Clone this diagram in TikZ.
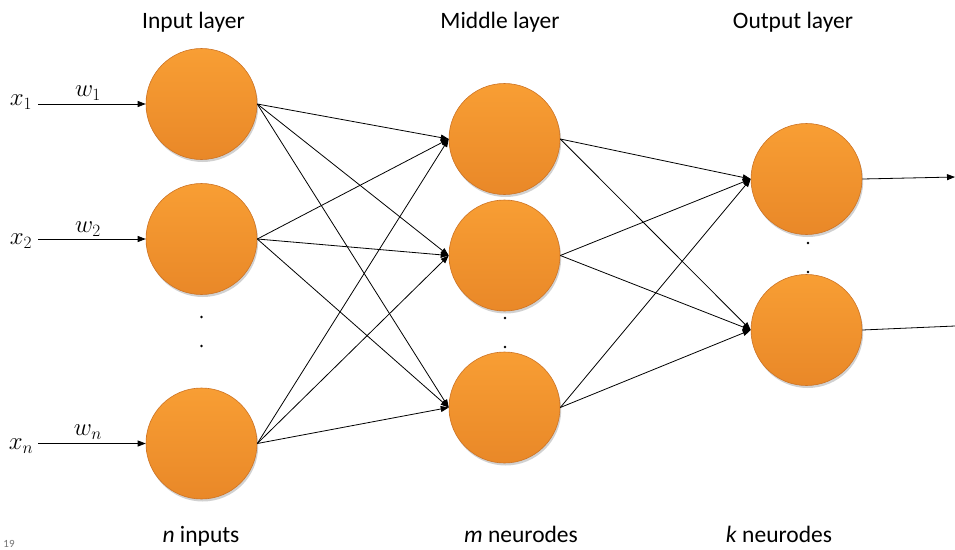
\documentclass[tikz,border=0pt]{standalone}
\usepackage{fontspec}
\setmainfont{Carlito}
\usetikzlibrary{arrows.meta,shadows}
\definecolor{orTop}{RGB}{248,158,52}
\definecolor{orBot}{RGB}{233,136,40}
\definecolor{orEdge}{RGB}{205,115,35}
\tikzset{
  neuron/.style={circle, minimum size=111pt, inner sep=0pt, draw=orEdge, line width=0.6pt,
    top color=orTop, bottom color=orBot,
    drop shadow={opacity=0.3, shadow xshift=1.2pt, shadow yshift=-2.5pt, fill=black!60}},
  conn/.style={line width=0.8pt, -{Triangle[length=8pt,width=6pt]}},
  plain/.style={line width=0.8pt},
  title/.style={font=\fontsize{23.5}{28}\selectfont, anchor=base},
  mlab/.style={font=\fontsize{26}{30}\selectfont},
  vdot/.style={circle, fill=black, inner sep=0pt, minimum size=2.6pt}
}
\begin{document}
\begin{tikzpicture}[x=1pt,y=-1pt]
\useasboundingbox (0,0) rectangle (955,549);
% input layer
\node[neuron] (i1) at (201.5,104) {};
\node[neuron] (i2) at (201.5,239) {};
\node[neuron] (in) at (201.5,443.5) {};
% middle layer
\node[neuron] (m1) at (504.5,139) {};
\node[neuron] (m2) at (504.5,255.5) {};
\node[neuron] (m3) at (504.5,407.5) {};
% output layer
\node[neuron] (o1) at (806.5,179) {};
\node[neuron] (o2) at (806.5,330) {};
% dots
\node[vdot] (d1) at (201.5,317) {};
\node[vdot] (d2) at (201.5,346) {};
\node[vdot] (d3) at (505,318) {};
\node[vdot] (d4) at (505,347) {};
\node[vdot] (d5) at (808,243) {};
\node[vdot] (d6) at (808,272) {};
% titles
\node[title] (t1) at (193.5,28.5) {Input layer};
\node[title] (t2) at (500,28.5) {Middle layer};
\node[title] (t3) at (793,28.5) {Output layer};
\node[title] (b1) at (201,542) {\textit{n} inputs};
\node[title] (b2) at (521,542) {\textit{m} neurodes};
\node[title] (b3) at (779,542) {\textit{k} neurodes};
\node[font=\fontsize{11}{13}\selectfont, text=black!55, anchor=base] (pg) at (9,547) {19};
% input labels
\node[mlab] (x1) at (21,102) {$x_1$};
\node[mlab] (x2) at (21,241) {$x_2$};
\node[mlab] (xn) at (21,446) {$x_n$};
\node[mlab] (w1) at (88,93) {$w_1$};
\node[mlab] (w2) at (88,229) {$w_2$};
\node[mlab] (wn) at (88,432) {$w_n$};
\coordinate (s1) at (38,104);
\coordinate (s2) at (38,239);
\coordinate (sn) at (38,443.5);
\draw[conn] (s1) -- (i1.west);
\draw[conn] (s2) -- (i2.west);
\draw[conn] (sn) -- (in.west);
% input -> middle
\foreach \a in {i1,i2,in}{
  \foreach \b in {m1,m2,m3}{
    \draw[conn] (\a.east) -- (\b.west);
  }
}
% middle -> output
\foreach \a in {m1,m2,m3}{
  \foreach \b in {o1,o2}{
    \draw[conn] (\a.east) -- (\b.west);
  }
}
% outputs
\coordinate (e1) at (955,177);
\coordinate (e2) at (955,326);
\draw[conn] (o1.east) -- (e1);
\draw[plain] (o2.east) -- (e2);
\end{tikzpicture}
\end{document}
